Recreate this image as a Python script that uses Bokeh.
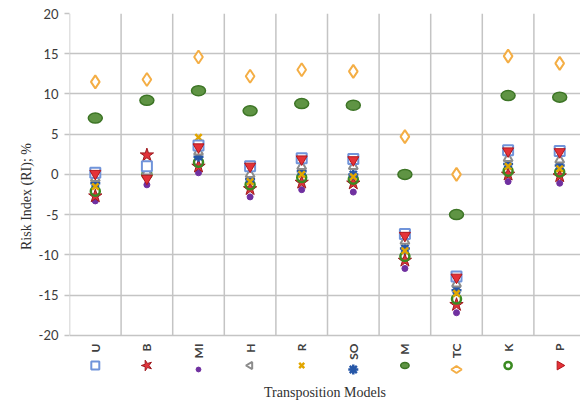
import math
from bokeh.plotting import figure
from bokeh.models import Range1d, FixedTicker, Title
from bokeh.core.properties import value
from bokeh.embed import file_html
from bokeh.resources import INLINE

# ---------------- data ----------------
models = ["U", "B", "MI", "H", "R", "SO", "M", "TC", "K", "P"]
yticks = [-20, -15, -10, -5, 0, 5, 10, 15, 20]
ytick_labels = ["-20", "-15", "-10", "-5", "0", "5", "10", "15", "20"]

ri_U  = [0.2, 1.0, 3.6, 1.0, 2.0, 1.9, -7.4, -12.7, 3.0, 2.9]
ri_B  = [-2.7, 2.4, 1.0, -1.8, -1.0, -1.1, -10.7, -16.2, 0.0, -0.2]
ri_MI = [-3.3, -1.3, 0.2, -2.8, -1.9, -2.2, -11.7, -17.2, -0.9, -1.1]
ri_H  = [-0.5, 0.3, 2.8, 0.0, 1.0, 1.0, -8.3, -13.6, 2.0, 1.8]
ri_R  = [-1.5, 0.7, 4.6, -0.9, 0.0, -0.3, -9.5, -14.8, 1.0, 0.7]
ri_SO = [-1.1, 0.5, 2.2, -0.6, 0.4, 0.0, -9.2, -14.4, 1.3, 1.1]
ri_M  = [7.0, 9.2, 10.4, 7.9, 8.8, 8.6, 0.0, -5.0, 9.8, 9.6]
ri_TC = [11.5, 11.8, 14.6, 12.2, 13.0, 12.8, 4.7, 0.0, 14.7, 13.8]
ri_K  = [-2.1, 0.0, 1.5, -1.3, -0.4, -0.6, -10.2, -15.5, 0.4, 0.3]
ri_P  = [0.1, -0.5, 3.4, 1.0, 1.9, 1.8, -7.6, -12.8, 2.9, 2.8]

xs = list(range(1, len(models) + 1))

# ---------------- layout helpers ----------------
W, H = 580, 405
BL, BR, BT, BB = 69, 0, 13, 26
FRAME_W = W - BL - BR
FRAME_H = H - BT - BB
PX_X = 51.6
Y_TOP, Y_BOT = 20, -25.5
PX_Y = FRAME_H / (Y_TOP - Y_BOT)
FRAME_TOP = BT


def ypix(pix):
    return Y_TOP - (pix - FRAME_TOP) / PX_Y


p = figure(width=W, height=H, output_backend="svg", toolbar_location=None,
           x_range=Range1d(0.5, 0.5 + FRAME_W / PX_X),
           y_range=Range1d(Y_BOT, Y_TOP),
           min_border_left=BL, min_border_right=BR,
           min_border_top=BT, min_border_bottom=BB)
p.outline_line_color = None
p.background_fill_color = "white"
p.border_fill_color = "white"

GRID = "#C4C4C4"
p.xgrid.visible = False
p.xaxis.visible = False
p.ygrid.ticker = FixedTicker(ticks=yticks)
p.ygrid.grid_line_color = GRID
p.ygrid.grid_line_width = 1.5

p.yaxis.ticker = FixedTicker(ticks=yticks)
p.yaxis.major_label_overrides = {t: s for t, s in zip(yticks, ytick_labels)}
p.yaxis.axis_line_color = None
p.yaxis.major_tick_out = 5
p.yaxis.major_tick_in = 0
p.yaxis.major_tick_line_color = GRID
p.yaxis.major_tick_line_width = 1.5
p.yaxis.minor_tick_line_color = None
p.yaxis.major_label_standoff = 6
p.yaxis.major_label_text_font = "Lato"
p.yaxis.major_label_text_font_size = "13px"
p.yaxis.major_label_text_color = "#3A3A3A"

# vertical category separators (stop at -20)
bounds = [i + 0.5 for i in range(0, len(models))]
p.segment(x0=bounds, x1=bounds, y0=[-20] * len(bounds), y1=[20] * len(bounds),
          line_color=GRID, line_width=1.5)

# ---------------- series ----------------
styles = {
    "TC": dict(marker="diamond", size=13, fill_color="white", line_color="#F4AE45", line_width=2),
    "MI": dict(marker="circle", size=6, fill_color="#7030A0", line_color="#7030A0"),
    "B":  dict(marker="star", size=14, fill_color="#E2323A", line_color="#9E1A1F", line_width=1),
    "K":  dict(marker="circle", size=9, fill_color=None, line_color="#3B8A22", line_width=2.5),
    "SO": dict(marker="asterisk", size=10, line_color="#2657A8", line_width=2.5),
    "R":  dict(marker="x", size=9, line_color="#E2A600", line_width=2.5),
    "H":  dict(marker="triangle", size=9, fill_color="white", line_color="#8C8C8C", line_width=2),
    "U":  dict(marker="square", size=10, fill_color="white", line_color="#7094DA", line_width=2),
    "P":  dict(marker="inverted_triangle", size=11, fill_color="#E53238", line_color="#B0171D", line_width=1),
}


def draw(kind, xx, yy, rot=0.0, scale=1.0):
    if kind == "M":
        p.ellipse(x=xx, y=yy, width=14 * scale, height=10 * scale, width_units="screen",
                  height_units="screen", angle=0.0, fill_color="#5F9444",
                  line_color="#3D7526", line_width=1.5)
        return
    st = dict(styles[kind])
    st["size"] = st["size"] * scale
    p.scatter(x=xx, y=yy, angle=rot, **st)


series = {"U": ri_U, "B": ri_B, "MI": ri_MI, "H": ri_H, "R": ri_R, "SO": ri_SO,
          "M": ri_M, "TC": ri_TC, "K": ri_K, "P": ri_P}
order = ["TC", "M", "MI", "B", "K", "SO", "R", "H", "U", "P"]
for name in order:
    draw(name, xs, series[name])

# ---------------- rotated legend under each column ----------------
text_top = ypix(343)
p.text(x=xs, y=[text_top] * len(xs), text=models, angle=math.pi / 2,
       text_align="right", text_baseline="middle", text_font=value("Lato"),
       text_font_style="bold", text_font_size="12px", text_color="#404040")
legend_scale = {"SO": 1.0, "M": 0.6}
for i, name in enumerate(models):
    my = ypix(343 + 4 * len(name) + 18)
    draw(name, [xs[i]], [my], rot=math.pi / 2, scale=legend_scale.get(name, 0.8))

# ---------------- axis titles ----------------
p.add_layout(Title(text="Risk Index (RI); %", align="center", offset=24,
                   text_font="Liberation Serif", text_font_size="14px",
                   text_font_style="normal", text_color="#303030", standoff=4), "left")
p.add_layout(Title(text="Transposition Models", align="center",
                   text_font="Liberation Serif", text_font_size="14px",
                   text_font_style="normal", text_color="#303030", standoff=6), "below")

open("out.html", "w").write(file_html(p, INLINE))
